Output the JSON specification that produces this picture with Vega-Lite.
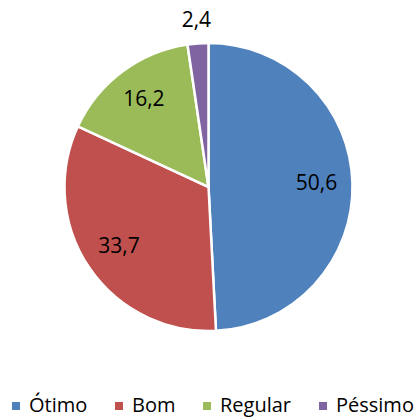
{
  "$schema": "https://vega.github.io/schema/vega-lite/v6.json",
  "width": 417,
  "height": 419,
  "autosize": {"type": "fit", "contains": "padding"},
  "padding": {"top": 0, "left": 6, "right": 6, "bottom": 3},
  "background": "white",
  "config": {
    "view": {"stroke": null},
    "locale": {"number": {"decimal": ",", "thousands": ".", "grouping": [3], "currency": ["R$", ""]}}
  },
  "data": {
    "values": [
      {"categoria": "Ótimo", "valor": 50.6},
      {"categoria": "Bom", "valor": 33.7},
      {"categoria": "Regular", "valor": 16.2},
      {"categoria": "Péssimo", "valor": 2.4}
    ]
  },
  "encoding": {
    "theta": {"field": "valor", "type": "quantitative", "stack": true},
    "order": {"field": "valor", "type": "quantitative", "sort": "descending"}
  },
  "layer": [
    {
      "mark": {"type": "arc", "outerRadius": 144, "stroke": "white", "strokeWidth": 2.5},
      "encoding": {
        "color": {
          "field": "categoria",
          "type": "nominal",
          "scale": {
            "domain": ["Ótimo", "Bom", "Regular", "Péssimo"],
            "range": ["#4F81BD", "#C0504D", "#9BBB59", "#8064A2"]
          },
          "legend": {
            "orient": "bottom",
            "direction": "horizontal",
            "title": null,
            "symbolType": "square",
            "symbolSize": 64,
            "symbolStrokeWidth": 0,
            "labelFont": "Open Sans",
            "labelFontSize": 20,
            "labelColor": "#000000",
            "labelOffset": 3,
            "columnPadding": 21,
            "offset": 22
          }
        }
      }
    },
    {
      "mark": {"type": "text", "radius": 108, "font": "Open Sans", "fontSize": 21, "color": "#000000"},
      "encoding": {
        "text": {"field": "valor", "type": "quantitative", "format": ".1f"},
        "opacity": {"condition": {"test": "datum.categoria === 'Péssimo'", "value": 0}, "value": 1}
      }
    },
    {
      "mark": {"type": "text", "radius": 166, "font": "Open Sans", "fontSize": 21, "color": "#000000"},
      "encoding": {
        "text": {"field": "valor", "type": "quantitative", "format": ".1f"},
        "opacity": {"condition": {"test": "datum.categoria === 'Péssimo'", "value": 1}, "value": 0}
      }
    }
  ]
}
